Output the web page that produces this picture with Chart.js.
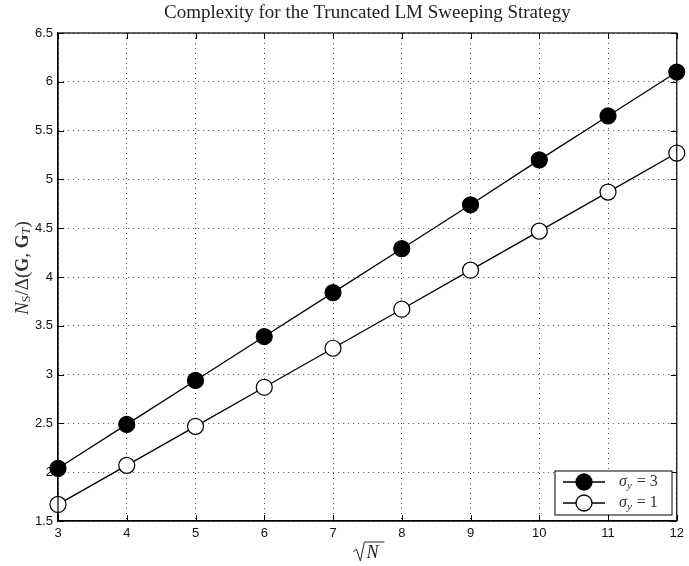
<!DOCTYPE html>
<html>
<head>
<meta charset="utf-8">
<script src="https://cdn.jsdelivr.net/npm/chart.js@4.4.0/dist/chart.umd.min.js"></script>
<style>
  html, body { margin: 0; padding: 0; background: #fff; }
  #wrap { width: 689px; height: 566px; }
</style>
</head>
<body>
<div id="wrap"><canvas id="chart" width="689" height="566"></canvas></div>
<script>
// values
var sqrtN = [3, 4, 5, 6, 7, 8, 9, 10, 11, 12];
var sigma3 = [2.04, 2.49, 2.94, 3.39, 3.84, 4.29, 4.74, 5.20, 5.65, 6.10];
var sigma1 = [1.67, 2.07, 2.47, 2.87, 3.27, 3.67, 4.07, 4.47, 4.87, 5.27];
var seriesLabels = ['3', '1'];

function pts(ys) {
    return sqrtN.map(function (x, i) { return { x: x, y: ys[i] }; });
}

var serif = '"Liberation Serif", "DejaVu Serif", serif';
var sans = '"Liberation Sans", Arial, sans-serif';

// draws title, axis labels, box, inward ticks and legend the way matlab does
var extras = {
    id: 'extras',
    beforeDatasetsDraw: function (chart) {
        var ctx = chart.ctx;
        var a = chart.chartArea;
        var sx = chart.scales.x, sy = chart.scales.y;
        ctx.save();
        ctx.strokeStyle = '#000';
        ctx.lineWidth = 1;
        ctx.beginPath();
        sx.ticks.forEach(function (t) {
            var px = Math.round(sx.getPixelForValue(t.value)) + 0.5;
            ctx.moveTo(px, a.bottom); ctx.lineTo(px, a.bottom - 6);
            ctx.moveTo(px, a.top); ctx.lineTo(px, a.top + 6);
        });
        sy.ticks.forEach(function (t) {
            var py = Math.round(sy.getPixelForValue(t.value)) + 0.5;
            ctx.moveTo(a.left, py); ctx.lineTo(a.left + 6, py);
            ctx.moveTo(a.right, py); ctx.lineTo(a.right - 6, py);
        });
        ctx.stroke();
        ctx.restore();
    },
    afterDraw: function (chart) {
        var ctx = chart.ctx;
        var a = chart.chartArea;
        ctx.save();
        // box
        ctx.strokeStyle = '#000';
        ctx.lineWidth = 1.2;
        ctx.strokeRect(a.left, a.top, a.right - a.left, a.bottom - a.top);

        // title
        ctx.fillStyle = '#222';
        ctx.font = '19px ' + serif;
        ctx.textAlign = 'center';
        ctx.textBaseline = 'middle';
        ctx.fillText('Complexity for the Truncated LM Sweeping Strategy', (a.left + a.right) / 2, 13);

        // x label: sqrt N
        var cx = (a.left + a.right) / 2;
        ctx.font = 'italic 18px ' + serif;
        ctx.textAlign = 'left';
        ctx.fillText('N', cx - 1, 553);
        ctx.lineWidth = 1;
        ctx.strokeStyle = '#222';
        ctx.beginPath();
        ctx.moveTo(cx - 14, 552);
        ctx.lineTo(cx - 11, 549);
        ctx.lineTo(cx - 7, 561);
        ctx.lineTo(cx - 3, 542);
        ctx.lineTo(cx + 17, 542);
        ctx.stroke();

        // y label
        ctx.save();
        ctx.translate(23, 268);
        ctx.rotate(-Math.PI / 2);
        ctx.textBaseline = 'middle';
        ctx.fillStyle = '#333';
        var parts = [
            ['italic 19px ' + serif, 'N', 0],
            ['12px ' + serif, 'S', 4],
            ['19px ' + serif, '/\u0394(', 0],
            ['bold 18px ' + serif, 'G', 0],
            ['19px ' + serif, ', ', 0],
            ['bold 18px ' + serif, 'G', 0],
            ['italic 12px ' + serif, 'T', 4],
            ['19px ' + serif, ')', 0]
        ];
        var w = 0;
        parts.forEach(function (p) { ctx.font = p[0]; w += ctx.measureText(p[1]).width; });
        var x = -w / 2;
        ctx.textAlign = 'left';
        parts.forEach(function (p) {
            ctx.font = p[0];
            ctx.fillText(p[1], x, p[2]);
            x += ctx.measureText(p[1]).width;
        });
        ctx.restore();

        // legend
        var lx = 555, ly = 471, lw = 117, lh = 44;
        ctx.fillStyle = '#fff';
        ctx.fillRect(lx, ly, lw, lh);
        ctx.strokeStyle = '#000';
        ctx.lineWidth = 1;
        ctx.strokeRect(lx, ly, lw, lh);
        chart.data.datasets.forEach(function (ds, i) {
            var yy = ly + 11 + i * 21;
            ctx.strokeStyle = '#000';
            ctx.lineWidth = 1.3;
            ctx.beginPath();
            ctx.moveTo(lx + 8, yy);
            ctx.lineTo(lx + 50, yy);
            ctx.stroke();
            ctx.beginPath();
            ctx.arc(lx + 29, yy, 8, 0, Math.PI * 2);
            ctx.fillStyle = ds.pointBackgroundColor;
            ctx.fill();
            ctx.stroke();
            ctx.fillStyle = '#333';
            ctx.textBaseline = 'middle';
            ctx.font = 'italic 16px ' + serif;
            ctx.fillText('\u03c3', lx + 64, yy);
            var sw = ctx.measureText('\u03c3').width;
            ctx.font = 'italic 11px ' + serif;
            ctx.fillText('y', lx + 64 + sw, yy + 4);
            var yw = ctx.measureText('y').width;
            ctx.font = '16px ' + serif;
            ctx.fillText(' = ' + ds.label, lx + 64 + sw + yw + 1, yy);
        });
        ctx.restore();
    }
};

function plain(v) { return String(v); }

new Chart(document.getElementById('chart'), {
    type: 'scatter',
    data: {
        datasets: [{
            label: seriesLabels[0],
            data: pts(sigma3),
            showLine: true,
            borderColor: '#000',
            borderWidth: 1.3,
            pointRadius: 8,
            pointHoverRadius: 8,
            pointBackgroundColor: '#000',
            pointBorderColor: '#000',
            pointBorderWidth: 1.2,
            clip: false
        },
        {
            label: seriesLabels[1],
            data: pts(sigma1),
            showLine: true,
            borderColor: '#000',
            borderWidth: 1.3,
            pointRadius: 8,
            pointHoverRadius: 8,
            pointBackgroundColor: '#fff',
            pointBorderColor: '#000',
            pointBorderWidth: 1.2,
            clip: false
        }]
    },
    options: {
        responsive: false,
        animation: false,
        layout: { padding: { top: 33, right: 12, left: 0, bottom: 0 } },
        plugins: {
            legend: { display: false },
            title: { display: false },
            tooltip: { enabled: false }
        },
        scales: {
            x: {
                type: 'linear',
                min: 3,
                max: 12,
                ticks: { stepSize: 1, color: '#111', font: { family: sans, size: 13 }, padding: 5, callback: plain },
                grid: { color: '#444', lineWidth: 1, drawTicks: false },
                border: { display: true, color: '#000', width: 1.2, dash: [1, 4] },
                afterFit: function (s) { s.height = 45; }
            },
            y: {
                min: 1.5,
                max: 6.5,
                ticks: { stepSize: 0.5, color: '#111', font: { family: sans, size: 13 }, padding: 5, callback: plain },
                grid: { color: '#444', lineWidth: 1, drawTicks: false },
                border: { display: true, color: '#000', width: 1.2, dash: [1, 4] },
                afterFit: function (s) { s.width = 58; }
            }
        }
    },
    plugins: [extras]
});
</script>
</body>
</html>
